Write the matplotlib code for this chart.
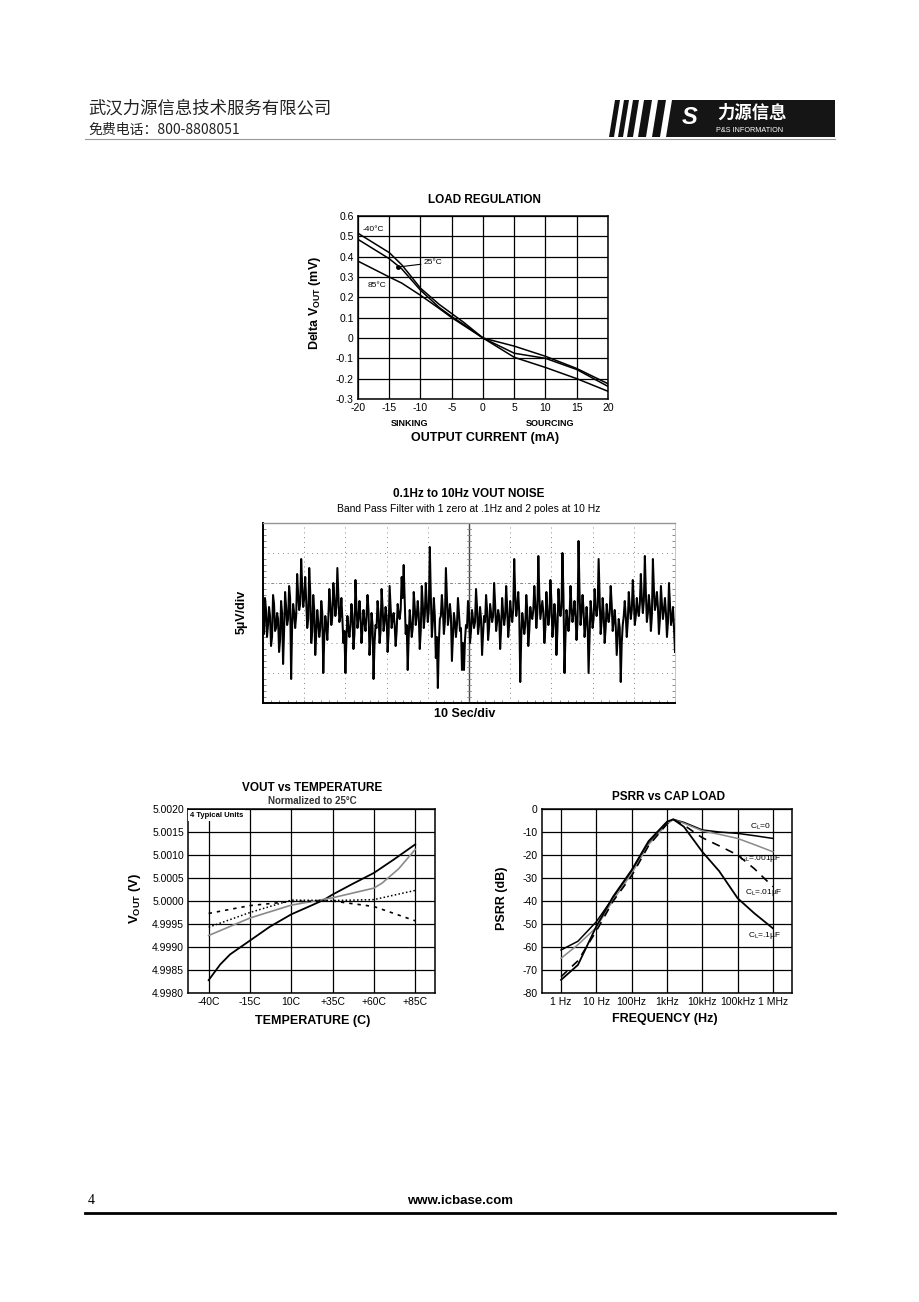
import numpy as np
import matplotlib
matplotlib.use("Agg")
import matplotlib.pyplot as plt
from matplotlib.patches import Polygon
from matplotlib.ticker import MultipleLocator

plt.rcParams['font.family'] = ['Liberation Sans', 'DejaVu Sans']
plt.rcParams['axes.unicode_minus'] = False
plt.rcParams['mathtext.fontset'] = 'custom'
plt.rcParams['mathtext.rm'] = 'Liberation Sans'
plt.rcParams['mathtext.it'] = 'Liberation Sans:italic'
plt.rcParams['mathtext.bf'] = 'Liberation Sans:bold'

W, H = 920, 1302
CJK = ['Noto Sans CJK SC', 'DejaVu Sans']

# ---- data: load regulation (mA -> mV)
load_current = [-20, -15, -13, -10, -7, -5, -3, 0, 5, 10, 15, 20]
dv_m40 = [0.515, 0.42, 0.36, 0.245, 0.165, 0.12, 0.075, 0, -0.04, -0.09, -0.15, -0.225]
dv_25 = [0.485, 0.39, 0.34, 0.235, 0.15, 0.105, 0.065, 0, -0.075, -0.10, -0.155, -0.238]
dv_85 = [0.378, 0.30, 0.27, 0.21, 0.145, 0.10, 0.06, 0, -0.095, -0.145, -0.20, -0.262]

# ---- data: 0.1-10Hz noise, in divisions (5uV/div)
# swing samples (peaks / troughs)
noise_div = [
    2.8, 3.5, 2.2, 3.2, 1.9, 3.6, 2.4, 3.0, 1.7, 3.4,
    1.3, 3.7, 2.6, 3.9, 0.8, 3.3, 2.5, 4.3, 3.1, 4.8,
    3.2, 4.2, 2.5, 4.5, 2.0, 3.6, 1.6, 3.1, 2.2, 3.4,
    1.0, 2.9, 2.1, 3.8, 2.6, 4.0, 2.9, 4.5, 2.7, 3.5,
    2.0, 1.0, 2.9, 2.2, 3.3, 1.8, 4.1, 2.5, 3.4, 2.0,
    3.1, 2.4, 3.6, 1.6, 3.0, 0.8, 2.6, 3.4, 2.0, 3.8,
    2.4, 3.2, 1.7, 3.9, 2.5, 3.0, 1.9, 3.3, 2.8, 4.2,
    4.6, 2.3, 1.1, 3.1, 2.2, 3.7, 2.6, 3.4, 1.8, 3.9,
    2.5, 4.0, 2.7, 5.2, 2.2, 3.5, 1.5, 0.5, 2.8, 3.6,
    2.3, 4.5, 2.6, 3.3, 1.4, 3.0, 2.2, 3.5, 2.4, 1.1,
    1.1, 2.6, 3.4, 2.0, 3.1, 2.5, 3.8, 2.3, 3.2, 1.6,
    2.9, 3.6, 2.1, 3.3, 2.7, 4.0, 2.4, 3.1, 1.8, 3.5,
    2.6, 3.9, 2.2, 3.4, 2.7, 4.8, 2.9, 3.7, 0.7, 3.0,
    2.3, 3.6, 1.9, 3.2, 2.8, 3.9, 2.5, 4.9, 2.8, 3.4,
    2.0, 3.7, 2.6, 4.1, 2.2, 3.3, 1.6, 3.8, 2.9, 5.0,
    1.0, 3.1, 2.4, 3.9, 2.7, 3.4, 2.1, 5.4, 2.6, 3.6,
    2.2, 3.2, 1.0, 3.4, 2.5, 3.8, 2.9, 4.8, 2.3, 3.5,
    2.0, 3.3, 2.7, 3.9, 2.4, 3.1, 1.6, 2.8, 0.7, 2.6,
    3.4, 2.2, 3.7, 2.8, 4.1, 2.6, 3.5, 2.9, 4.3, 3.0,
    4.9, 2.7, 3.6, 2.4, 4.8, 3.1, 3.7, 2.3, 3.9, 2.8,
    3.5, 2.2, 4.0, 2.6, 3.2, 1.7,
]
# in-between samples (the dense core of the trace)
noise_mid = [
    2.3, 3.1, 2.6, 2.9, 2.2, 3.3, 2.5, 2.8, 2.1, 3.0,
    2.4, 3.2, 2.8, 3.5, 2.6, 3.0, 2.9, 3.6, 3.3, 3.9,
    3.5, 3.4, 2.8, 3.7, 2.4, 3.1, 2.3, 2.7, 2.5, 3.0,
    2.2, 2.6, 2.8, 3.3, 2.9, 3.5, 3.2, 3.6, 2.9, 2.8,
    2.4, 2.1, 2.5, 2.6, 2.9, 2.3, 3.2, 2.8, 2.9, 2.5,
    2.7, 2.9, 3.1, 2.2, 2.6, 2.0, 2.5, 3.0, 2.4, 3.2,
    2.7, 2.9, 2.3, 3.2, 2.8, 2.6, 2.4, 3.0, 3.1, 3.5,
    3.4, 2.6, 2.2, 2.7, 2.5, 3.2, 2.9, 2.9, 2.4, 3.3,
    2.9, 3.3, 3.1, 3.6, 2.7, 2.9, 2.2, 2.0, 2.9, 3.1,
    2.7, 3.5, 2.9, 2.9, 2.2, 2.7, 2.6, 3.0, 2.5, 2.0,
    2.1, 2.5, 3.0, 2.4, 2.8, 2.7, 3.2, 2.6, 2.8, 2.3,
    2.7, 3.1, 2.5, 3.0, 2.9, 3.3, 2.7, 2.9, 2.5, 3.0,
    2.9, 3.2, 2.6, 3.0, 3.1, 3.6, 3.2, 3.0, 2.2, 2.7,
    2.6, 3.1, 2.4, 2.9, 3.1, 3.3, 3.0, 3.6, 3.1, 3.0,
    2.5, 3.1, 2.9, 3.4, 2.6, 2.9, 2.4, 3.2, 3.2, 3.6,
    2.2, 2.8, 2.8, 3.2, 3.0, 2.9, 2.7, 3.7, 3.0, 3.1,
    2.6, 2.7, 2.2, 3.0, 2.8, 3.2, 3.2, 3.6, 2.7, 3.0,
    2.5, 2.9, 3.0, 3.3, 2.7, 2.6, 2.2, 2.5, 2.0, 2.9,
    2.9, 2.7, 3.2, 3.1, 3.4, 2.9, 3.1, 3.3, 3.5, 3.4,
    3.7, 3.0, 3.2, 2.9, 3.8, 3.3, 3.2, 2.8, 3.3, 3.1,
    3.0, 2.7, 3.3, 2.8, 2.5,
]

# ---- data: VOUT vs temperature (4 units)
temp_c = [-40, -33, -27, -15, -3, 10, 22, 30, 35, 47, 60, 72, 85]
vout_u1 = [4.99828, 4.99862, 4.99884, 4.99914, 4.99944, 4.99971, 4.99990, 5.00003, 5.00014,
           5.00037, 5.00061, 5.00090, 5.00123]
temp_c2 = [-40, -15, 10, 35, 60, 65, 75, 85]
vout_u2 = [4.99925, 4.99963, 4.99991, 5.00007, 5.00028, 5.00039, 5.00070, 5.00112]
temp_c3 = [-40, -15, 10, 35, 60, 85]
vout_u3 = [4.99973, 4.99990, 4.99999, 5.00000, 4.99988, 4.99957]
vout_u4 = [4.99943, 4.99975, 5.00002, 5.00001, 5.00003, 5.00023]
temp_ticks = [-40, -15, 10, 35, 60, 85]
temp_labels = ['-40C', '-15C', '10C', '+35C', '+60C', '+85C']

# ---- data: PSRR vs cap load
freq_hz = [1, 3, 10, 30, 100, 300, 1e3, 1.5e3, 3e3, 1e4, 3e4, 1e5, 3e5, 1e6]
psrr_cl0 = [-61.3, -57.5, -49, -38.5, -27, -15, -6.2, -4.5, -5.8, -9.1, -10, -10.6, -11.6, -12.8]
psrr_cl001 = [-64.9, -59, -51.5, -39.5, -28, -15.5, -6.5, -4.5, -6.2, -9.5, -11, -12.8, -15.5, -18.6]
psrr_cl01 = [-72.9, -66, -53, -40, -29, -16, -6.5, -4.5, -7, -12.5, -16, -20, -26, -33.8]
psrr_cl1 = [-74.3, -67.8, -51, -38, -26.5, -14, -5.5, -4.5, -7.7, -18.6, -27, -38.8, -45.4, -51.9]
freq_labels = ['1 Hz', '10 Hz', '100Hz', '1kHz', '10kHz', '100kHz', '1 MHz']

fig = plt.figure(figsize=(W / 100, H / 100), dpi=100)
fig.patch.set_facecolor('white')

# page overlay in pixel coordinates
page = fig.add_axes([0, 0, 1, 1])
page.set_xlim(0, W)
page.set_ylim(H, 0)
page.axis('off')


def box(l, t, r, b):
    return [l / W, 1 - b / H, (r - l) / W, (b - t) / H]


# header
page.text(88, 108, '武汉力源信息技术服务有限公司', family=CJK, fontsize=12.5,
          va='center', ha='left', color='#222222')
page.text(88, 130, '免费电话：800-8808051', family=CJK, fontsize=10,
          va='center', ha='left', color='#222222')
page.plot([85, 835], [139, 139], color='#999999', lw=0.8)
# logo stripes and box
for xb, wdt in [(609, 5), (618, 5), (627, 6), (638, 8), (652, 8)]:
    page.add_patch(Polygon([(xb, 137), (xb + wdt, 137), (xb + wdt + 6, 100), (xb + 6, 100)],
                           closed=True, color='#111111', lw=0))
page.add_patch(Polygon([(666, 137), (835, 137), (835, 100), (672, 100)],
                       closed=True, color='#151515', lw=0))
page.text(690, 117, 'S', color='white', fontsize=17, fontweight='bold',
          style='italic', ha='center', va='center')
page.text(752, 113, '力源信息', family=CJK, color='white', fontsize=12.5,
          fontweight='bold', ha='center', va='center')
page.text(750, 130, 'P&S INFORMATION', color='white', fontsize=5.2,
          ha='center', va='center')

# footer
page.text(88, 1201, '4', family=['Liberation Serif'], fontsize=10, ha='left', va='center')
page.text(460, 1201, 'www.icbase.com', fontsize=9.5, fontweight='bold', ha='center', va='center')
page.plot([85, 835], [1213, 1213], color='black', lw=2)


def style_axes(ax):
    for s in ax.spines.values():
        s.set_linewidth(1.1)
    ax.tick_params(length=0, labelsize=7.5, pad=3)
    ax.grid(True, color='black', lw=0.9)
    ax.set_axisbelow(True)


# ---- LOAD REGULATION
ax1 = fig.add_axes(box(358, 216, 608, 399))
ax1.plot(load_current, dv_m40, color='black', lw=1.1)
ax1.plot(load_current, dv_25, color='black', lw=1.1)
ax1.plot(load_current, dv_85, color='black', lw=1.1)
ax1.set_xlim(-20, 20)
ax1.set_ylim(-0.3, 0.6)
ax1.xaxis.set_major_locator(MultipleLocator(5))
ax1.yaxis.set_major_locator(MultipleLocator(0.1))
ax1.set_yticklabels(['%g' % round(v, 1) for v in ax1.get_yticks()])
style_axes(ax1)
ax1.text(-19.3, 0.535, '-40°C', fontsize=6, va='center')
ax1.text(-18.4, 0.26, '85°C', fontsize=6, va='center')
ax1.annotate('25°C', xy=(-13.6, 0.349), xytext=(-9.5, 0.37), fontsize=6, va='center',
             arrowprops=dict(arrowstyle='-', color='black', lw=0.8, shrinkA=0, shrinkB=0))
ax1.plot([-13.6], [0.349], 'o', color='black', ms=2.5)
page.text(484, 200, 'LOAD REGULATION', fontsize=8.5, fontweight='bold', ha='center', va='center')
page.text(410, 424, 'SINKING', fontsize=6.5, fontweight='bold', ha='center', va='center')
page.text(550, 424, 'SOURCING', fontsize=6.5, fontweight='bold', ha='center', va='center')
page.text(485, 438, 'OUTPUT CURRENT (mA)', fontsize=9, fontweight='bold', ha='center', va='center')
page.text(315, 303, r'Delta V$_{\mathbf{OUT}}$ (mV)', fontsize=9, fontweight='bold',
          ha='center', va='center', rotation=90)

# ---- NOISE
trace = [v for pair in zip(noise_div, noise_mid) for v in pair] + noise_div[len(noise_mid):]
ax2 = fig.add_axes(box(263, 523, 675, 703))
t = np.linspace(0, 10, len(trace))
ax2.plot(t, trace, color='black', lw=1.45)
ax2.set_xlim(0, 10)
ax2.set_ylim(0, 6)
for xv in range(1, 10):
    if xv == 5:
        ax2.axvline(xv, color='#444444', lw=1.0, zorder=0)
    else:
        ax2.axvline(xv, color='#888888', lw=0.7, ls=(0, (1, 4)), zorder=0)
for yv in range(1, 6):
    ls = (0, (3, 2, 1, 2)) if yv == 4 else (0, (1, 4))
    ax2.axhline(yv, color='#888888', lw=0.7, ls=ls, zorder=0)
# small ticks along centre line
for yv in np.arange(0.2, 6, 0.2):
    ax2.plot([4.95, 5.05], [yv, yv], color='#888888', lw=0.6, zorder=0)
ax2.xaxis.set_minor_locator(MultipleLocator(0.2))
ax2.yaxis.set_minor_locator(MultipleLocator(0.2))
ax2.tick_params(which='both', direction='in', labelleft=False, labelbottom=False,
                left=True, right=True, bottom=True, top=False)
ax2.tick_params(which='major', length=0)
ax2.tick_params(which='minor', length=2, width=0.6, color='#777777')
ax2.spines['left'].set_linewidth(1.4)
ax2.spines['bottom'].set_linewidth(1.4)
ax2.spines['top'].set_color('#9a8fa0')
ax2.spines['top'].set_linewidth(1.0)
ax2.spines['right'].set_color('#bbbbbb')
ax2.spines['right'].set_linewidth(0.6)
page.text(469, 494, '0.1Hz to 10Hz VOUT NOISE', fontsize=8.5, fontweight='bold', ha='center', va='center')
page.text(469, 509, 'Band Pass Filter with 1 zero at .1Hz and 2 poles at 10 Hz', fontsize=7.5,
          ha='center', va='center')
page.text(465, 714, '10 Sec/div', fontsize=9, fontweight='bold', ha='center', va='center')
page.text(242, 612, '5µV/div', fontsize=9, fontweight='bold', ha='center', va='center', rotation=90)

# ---- VOUT vs TEMPERATURE
ax3 = fig.add_axes(box(188, 809, 435, 993))
ax3.plot(temp_c, vout_u1, color='black', lw=1.3)
ax3.plot(temp_c2, vout_u2, color='#8a8a8a', lw=1.2)
ax3.plot(temp_c3, vout_u3, color='black', lw=1.2, ls=(0, (2, 3)))
ax3.plot(temp_c3, vout_u4, color='black', lw=1.1, ls=(0, (1, 1.5)))
ax3.set_xlim(-52.5, 97)
ax3.set_ylim(4.998, 5.002)
ax3.set_xticks(temp_ticks)
ax3.set_xticklabels(temp_labels)
ax3.yaxis.set_major_locator(MultipleLocator(0.0005))
ax3.set_yticklabels(['%.4f' % v for v in ax3.get_yticks()])
style_axes(ax3)
ax3.text(-51.5, 5.00185, '4 Typical Units', fontsize=5.5, fontweight='bold', va='center',
         bbox=dict(facecolor='white', edgecolor='none', pad=1.5))
page.text(312, 788, 'VOUT vs TEMPERATURE', fontsize=8.5, fontweight='bold', ha='center', va='center')
page.text(312, 801, 'Normalized to 25°C', fontsize=7, fontweight='bold', color='#333333',
          ha='center', va='center')
page.text(313, 1021, 'TEMPERATURE (C)', fontsize=9, fontweight='bold', ha='center', va='center')
page.text(135, 898, r'V$_{\mathbf{OUT}}$ (V)', fontsize=9.5, fontweight='bold',
          ha='center', va='center', rotation=90)

# ---- PSRR vs CAP LOAD
ax4 = fig.add_axes(box(542, 809, 792, 993))
ax4.semilogx(freq_hz, psrr_cl0, color='black', lw=1.1)
ax4.semilogx(freq_hz, psrr_cl001, color='#8a8a8a', lw=1.1)
ax4.semilogx(freq_hz, psrr_cl01, color='black', lw=1.2, ls=(0, (5, 4)))
ax4.semilogx(freq_hz, psrr_cl1, color='black', lw=1.3)
ax4.set_xlim(10 ** -0.54, 10 ** 6.54)
ax4.set_ylim(-80, 0)
ax4.set_xticks([10.0 ** k for k in range(7)])
ax4.set_xticklabels(freq_labels)
ax4.xaxis.set_minor_locator(plt.NullLocator())
ax4.yaxis.set_major_locator(MultipleLocator(10))
ax4.set_yticklabels(['%d' % v for v in ax4.get_yticks()])
style_axes(ax4)
ax4.text(2.2e5, -8, r'C$_\mathrm{L}$=0', fontsize=6, va='center')
ax4.text(1.1e5, -21.5, r'C$_\mathrm{L}$=.001µF', fontsize=6, va='center')
ax4.text(1.6e5, -36.5, r'C$_\mathrm{L}$=.01µF', fontsize=6, va='center')
ax4.text(2.0e5, -55, r'C$_\mathrm{L}$=.1µF', fontsize=6, va='center')
page.text(669, 797, 'PSRR vs CAP LOAD', fontsize=8.5, fontweight='bold', ha='center', va='center')
page.text(665, 1019, 'FREQUENCY (Hz)', fontsize=9, fontweight='bold', ha='center', va='center')
page.text(502, 898, 'PSRR (dB)', fontsize=9, fontweight='bold', ha='center', va='center', rotation=90)

fig.savefig('out.png', dpi=100, facecolor='white')
